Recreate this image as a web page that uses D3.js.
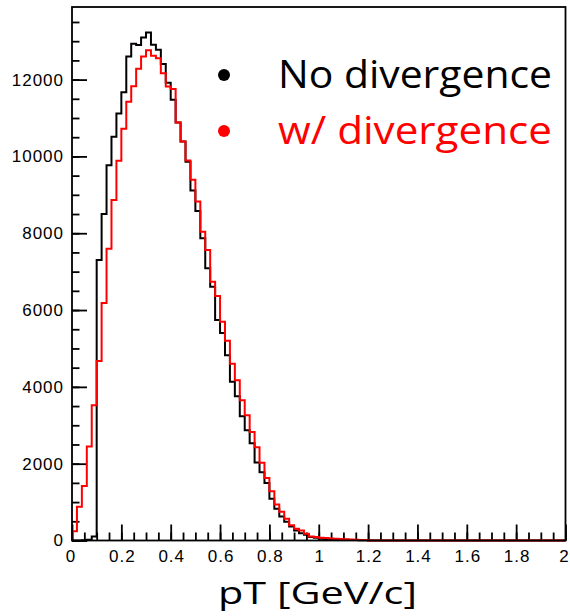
<!DOCTYPE html>
<html lang="en">
<head>
  <meta charset="UTF-8">
  <title>pT</title>
  <style>
  body { margin: 0; background: #fff; }
  #paper svg { display: block; }
  .axis text { font-family: "Liberation Sans", Arial, sans-serif; font-size: 17px; letter-spacing: 1px; fill: #000; }
  .axis path, .axis line { stroke: #000; stroke-width: 1.8; }
  </style>
</head>
<body>
  <div id="paper"></div>
  <script src="https://cdn.jsdelivr.net/npm/d3@7"></script>
  <script>
    // 100 bins, 0..2 GeV/c, width 0.02
    const binWidth = 0.02;
    const noDiv = [
      0, 0, 5, 20, 105, 7300, 8500, 9770, 10515, 11115,
      11670, 12600, 12930, 12900, 13095, 13225, 12905, 12775, 12405, 11920,
      11475, 10880, 10390, 9860, 9110, 8580, 7870, 7085, 6605, 5740,
      5405, 4825, 4130, 3755, 3235, 2870, 2530, 2030, 1780, 1495,
      1090, 825, 625, 490, 365, 260, 190, 150, 90, 70,
      45, 38, 32, 27, 22, 17, 13, 10, 7, 5,
      0, 0, 0, 0, 0, 0, 0, 0, 0, 0,
      0, 0, 0, 0, 0, 0, 0, 0, 0, 0,
      0, 0, 0, 0, 0, 0, 0, 0, 0, 0,
      0, 0, 0, 0, 0, 0, 0, 0, 0, 0
    ];
    const withDiv = [
      240, 880, 1420, 2450, 3520, 4675, 6185, 7595, 8865, 9890,
      10720, 11420, 11825, 12280, 12600, 12765, 12620, 12555, 12165, 11820,
      11755, 10885, 10390, 9895, 9390, 8825, 8040, 7565, 6735, 6365,
      5695, 5200, 4605, 4175, 3650, 3260, 2825, 2430, 2025, 1625,
      1285, 940, 750, 565, 400, 305, 260, 175, 105, 88,
      72, 62, 55, 48, 40, 30, 25, 20, 15, 10,
      0, 0, 0, 0, 0, 0, 0, 0, 0, 0,
      0, 0, 0, 0, 0, 0, 0, 0, 0, 0,
      0, 0, 0, 0, 0, 0, 0, 0, 0, 0,
      0, 0, 0, 0, 0, 0, 0, 0, 0, 0
    ];
    const xTicks = [0, 0.2, 0.4, 0.6, 0.8, 1, 1.2, 1.4, 1.6, 1.8, 2];
    const yTicks = [0, 2000, 4000, 6000, 8000, 10000, 12000];
    const legendLabels = ['No divergence', 'w/ divergence'];
    const colors = ['#000000', '#ff0000'];

    const W = 570, H = 616;
    const m = {left: 72, right: 4.5, top: 7, bottom: 75.5};

    const svg = d3.select('#paper').append('svg')
      .attr('width', W).attr('height', H);

    const x = d3.scaleLinear().domain([0, 2]).range([m.left, W - m.right]);
    const y = d3.scaleLinear().domain([0, 13890]).range([H - m.bottom, m.top]);

    const fmt = d => d3.format('')(d);

    // x axis, ticks pointing into the frame like ROOT
    svg.append('g').attr('class', 'axis')
      .attr('transform', `translate(0,${H - m.bottom})`)
      .call(d3.axisBottom(x).tickValues(d3.range(0, 2.0001, 0.05)).tickSize(-8).tickFormat(''))
      .call(g => g.select('.domain').remove());
    svg.append('g').attr('class', 'axis')
      .attr('transform', `translate(0,${H - m.bottom})`)
      .call(d3.axisBottom(x).tickValues(xTicks).tickSize(-16).tickPadding(9).tickFormat(fmt))
      .call(g => g.select('.domain').remove())
      .call(g => g.selectAll('text')
        .attr('dx', d => d === 2 ? '-2px' : (d === 0 ? '-2px' : '0.5px'))
        .style('letter-spacing', d => d === 2 || d === 0 ? '0px' : null));

    // y axis
    svg.append('g').attr('class', 'axis')
      .attr('transform', `translate(${m.left},0)`)
      .call(d3.axisLeft(y).tickValues(d3.range(0, 13890, 500)).tickSize(-7.5).tickFormat(''))
      .call(g => g.select('.domain').remove());
    svg.append('g').attr('class', 'axis')
      .attr('transform', `translate(${m.left},0)`)
      .call(d3.axisLeft(y).tickValues(yTicks).tickSize(-15).tickPadding(8).tickFormat(fmt))
      .call(g => g.select('.domain').remove());

    // histograms
    const line = d3.line().curve(d3.curveStepAfter).x(d => x(d[0])).y(d => y(d[1]));
    function steps(vals) {
      const pts = [[0, 0]];
      vals.forEach((v, i) => pts.push([i * binWidth, v]));
      pts.push([vals.length * binWidth, vals[vals.length - 1]]);
      return pts;
    }
    [noDiv, withDiv].forEach((vals, i) => {
      svg.append('path')
        .attr('d', line(steps(vals)))
        .attr('fill', 'none')
        .attr('stroke', colors[i])
        .attr('stroke-width', 2);
    });

    // frame
    svg.append('rect')
      .attr('x', m.left).attr('y', m.top)
      .attr('width', W - m.left - m.right).attr('height', H - m.top - m.bottom)
      .attr('fill', 'none').attr('stroke', '#000').attr('stroke-width', 1.8);

    // legend
    legendLabels.forEach((t, i) => {
      const cy = 75 + i * 56;
      svg.append('circle').attr('cx', 224).attr('cy', cy).attr('r', 6).attr('fill', colors[i]);
      svg.append('text')
        .attr('x', 278).attr('y', cy + 13)
        .attr('textLength', 274).attr('lengthAdjust', 'spacingAndGlyphs')
        .style('font-family', '"Open Sans", "Noto Sans", sans-serif')
        .style('font-size', '39px')
        .attr('fill', colors[i])
        .text(t);
    });

    // axis title
    svg.append('text')
      .attr('x', 218).attr('y', 604)
      .attr('textLength', 199).attr('lengthAdjust', 'spacingAndGlyphs')
      .style('font-family', '"Open Sans", "Noto Sans", sans-serif')
      .style('font-size', '31px')
      .text('pT [GeV/c]');
  </script>
</body>
</html>
